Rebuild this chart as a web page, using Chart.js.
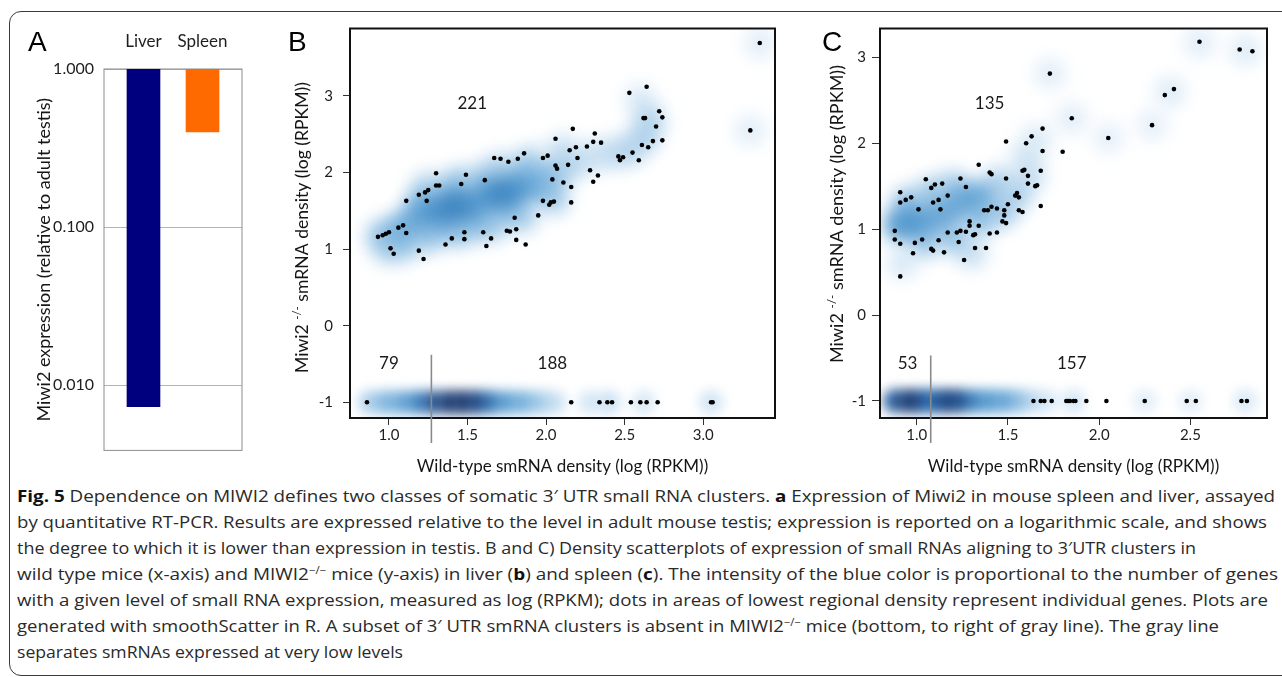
<!DOCTYPE html>
<html>
<head>
<meta charset="utf-8">
<script src="https://cdn.jsdelivr.net/npm/chart.js@4.4.1/dist/chart.umd.min.js"></script>
<style>
html, body { margin: 0; padding: 0; background: #fff; }
body { width: 1282px; height: 677px; position: relative; overflow: hidden; }
#frame { position: absolute; left: 9px; top: 11px; width: 1290px; height: 665px; box-sizing: border-box;
         border: 1.6px solid #3a3a3a; border-radius: 12px; }
.panel { position: absolute; top: 28px; font-family: "Liberation Sans", Arial, sans-serif; font-size: 28px; line-height: 28px; color: #000; }
canvas { position: absolute; top: 0; }
.line { position: absolute; left: 17px; white-space: nowrap; transform-origin: 0 50%;
        font-family: "Open Sans", sans-serif; font-size: 16.5px; line-height: 26px; color: #2a2a2a; }
.line b { color: #111; }
.line sup { font-size: 10px; line-height: 0; vertical-align: 6px; }
</style>
</head>
<body>
<div id="frame"></div>
<canvas id="chartA" width="262" height="470" style="left:0px"></canvas>
<canvas id="chartB" width="522" height="482" style="left:268px"></canvas>
<canvas id="chartC" width="482" height="482" style="left:800px"></canvas>
<div class="panel" style="left:28px">A</div>
<div class="panel" style="left:288px">B</div>
<div class="panel" style="left:822px">C</div>

<div class="line" style="top:483px" data-w="1258"><b>Fig. 5</b> Dependence on MIWI2 defines two classes of somatic 3′ UTR small RNA clusters. <b>a</b> Expression of Miwi2 in mouse spleen and liver, assayed</div>
<div class="line" style="top:509px" data-w="1250">by quantitative RT-PCR. Results are expressed relative to the level in adult mouse testis; expression is reported on a logarithmic scale, and shows</div>
<div class="line" style="top:535px" data-w="1179">the degree to which it is lower than expression in testis. B and C) Density scatterplots of expression of small RNAs aligning to 3′UTR clusters in</div>
<div class="line" style="top:561px" data-w="1261">wild type mice (x-axis) and MIWI2<sup>−/−</sup> mice (y-axis) in liver (<b>b</b>) and spleen (<b>c</b>). The intensity of the blue color is proportional to the number of genes</div>
<div class="line" style="top:587px" data-w="1251">with a given level of small RNA expression, measured as log (RPKM); dots in areas of lowest regional density represent individual genes. Plots are</div>
<div class="line" style="top:613px" data-w="1202">generated with smoothScatter in R. A subset of 3′ UTR smRNA clusters is absent in MIWI2<sup>−/−</sup> mice (bottom, to right of gray line). The gray line</div>
<div class="line" style="top:639px" data-w="386">separates smRNAs expressed at very low levels</div>

<script>
// ---- panel A: Miwi2 expression relative to adult testis ----
var tissues = ['Liver', 'Spleen'];
var miwi2Expr = [0.0073, 0.40];
var tissueColors = ['#00007e', '#ff6a00'];
var exprTicks = [1, 0.1, 0.01];

// ---- panels B / C: axes ----
var wtTicksB = [1.0, 1.5, 2.0, 2.5, 3.0];
var wtTicksC = [1.0, 1.5, 2.0, 2.5];
var koTicks = [-1, 0, 1, 2, 3];
var ABSENT = -1; // clusters with no smRNA in Miwi2-/- sit on this row

// liver (B): individual genes drawn as dots [wild-type, Miwi2-/-]
var liverDots = [
  [2.06,2.44],[1.67,2.19],[1.71,2.18],[1.76,2.14],[1.82,2.18],[1.86,2.25],[1.98,2.19],[2.01,2.22],[2.15,2.29],
  [2.06,2.09],[2.07,2.05],[2.14,2.10],[2.04,1.91],[2.11,1.87],
  [1.30,1.99],[1.30,1.83],[1.32,1.83],[1.49,1.97],[1.61,1.90],[1.46,1.85],[1.19,1.71],[1.23,1.74],[1.25,1.77],
  [1.24,1.63],[1.11,1.63],[1.98,1.63],[2.02,1.58],[2.03,1.61],[2.05,1.62],[1.95,1.44],[1.80,1.41],
  [0.93,1.16],[0.96,1.18],[0.98,1.20],[1.00,1.22],[1.06,1.28],[1.09,1.31],[1.11,1.21],[1.01,1.01],[1.03,0.94],
  [1.19,0.98],[1.22,0.87],[1.36,1.06],[1.40,1.14],[1.48,1.22],[1.48,1.13],[1.60,1.22],[1.65,1.14],[1.62,1.04],
  [1.75,1.24],[1.77,1.23],[1.81,1.26],[1.81,1.12],[1.87,1.06],
  [3.36,3.69],[3.30,2.55],[2.53,3.04],[2.64,3.12],[2.72,2.80],[2.62,2.71],[2.63,2.71],[2.74,2.72],[2.70,2.60],
  [2.74,2.42],[2.68,2.41],[2.61,2.36],[2.65,2.33],[2.55,2.26],[2.59,2.16],[2.46,2.21],[2.47,2.16],[2.49,2.20],
  [2.17,2.57],[2.31,2.51],[2.30,2.40],[2.35,2.39],[2.26,2.34],[2.19,2.33],[2.20,2.19],[2.28,2.03],[2.33,1.96],
  [2.30,1.88],[2.16,1.81],[2.16,1.61]
];
var liverAbsent = [0.86, 2.16, 2.34, 2.39, 2.42, 2.54, 2.60, 2.64, 2.71, 3.05, 3.06];
// density: [wild-type, Miwi2-/-, relative density 0..1]
var liverCloud = [
  [0.95,1.17,0.40],[1.05,1.22,0.48],[1.12,1.32,0.52],[1.20,1.42,0.58],[1.28,1.50,0.66],[1.38,1.54,0.74],
  [1.46,1.55,0.72],[1.55,1.60,0.64],[1.64,1.68,0.68],[1.72,1.74,0.74],[1.80,1.76,0.66],[1.88,1.82,0.55],
  [1.97,1.90,0.45],[2.06,2.00,0.36],[2.16,2.10,0.28],[2.28,2.20,0.22],[2.40,2.25,0.24],[2.52,2.28,0.32],
  [2.62,2.45,0.34],[2.66,2.68,0.32],[2.60,2.95,0.16],[3.36,3.69,0.12],[3.30,2.55,0.12],
  [1.00,1.00,0.30],[1.10,1.05,0.36],[1.25,1.15,0.40],[1.35,1.30,0.48],[1.45,1.22,0.40],[1.55,1.35,0.45],
  [1.65,1.30,0.38],[1.75,1.50,0.45],[1.85,1.42,0.36],[2.05,1.65,0.34],[2.00,1.80,0.38],
  [1.20,1.60,0.42],[1.25,1.80,0.34],[1.40,1.75,0.45],[1.45,1.88,0.36],[1.60,1.90,0.42],[1.70,2.05,0.34],
  [1.85,2.00,0.40],[1.90,2.15,0.30],[2.10,2.30,0.22]
];
var liverBand = [
  [0.88,-1,0.32],[0.98,-1,0.48],[1.08,-1,0.58],[1.18,-1,0.74],[1.28,-1,0.90],[1.38,-1,1.00],[1.47,-1,1.00],
  [1.56,-1,0.92],[1.65,-1,0.76],[1.75,-1,0.62],[1.85,-1,0.52],[1.95,-1,0.36],[2.05,-1,0.22],[2.28,-1,0.16],
  [2.40,-1,0.20],[2.62,-1,0.15],[3.05,-1,0.18]
];
var liverCounts = [['221', 1.53, 2.90], ['79', 1.00, -0.49], ['188', 2.04, -0.49]];
var liverCut = 1.27;

// spleen (C)
var spleenDots = [
  [2.55,3.18],[2.77,3.09],[2.84,3.07],[1.73,2.81],[2.36,2.56],[2.41,2.63],[1.85,2.29],[2.29,2.21],[2.05,2.06],[1.80,1.90],
  [1.69,2.17],[1.69,1.91],[1.63,2.08],[1.60,2.00],[1.49,2.02],[1.68,1.68],[1.34,1.75],[1.40,1.66],[1.41,1.64],
  [1.49,1.59],[1.58,1.68],[1.59,1.69],[1.61,1.62],[1.61,1.53],[1.65,1.50],[1.66,1.51],
  [1.24,1.59],[1.27,1.49],[1.05,1.58],[1.08,1.48],[1.10,1.52],[1.14,1.53],[0.91,1.43],[0.91,1.31],[0.94,1.34],
  [0.97,1.37],[1.01,1.23],[1.09,1.31],[1.12,1.34],[1.13,1.23],[1.17,1.39],
  [1.50,1.29],[1.37,1.22],[1.39,1.22],[1.41,1.26],[1.44,1.24],[1.48,1.16],[1.48,1.22],[1.54,1.39],[1.55,1.42],
  [1.56,1.37],[1.56,1.22],[1.58,1.20],[1.68,1.27],
  [1.47,1.09],[1.49,1.07],[1.44,0.96],[1.40,0.95],[1.34,1.04],[1.29,1.09],[1.29,1.04],[1.31,0.93],[1.32,0.94],
  [1.27,0.97],[1.24,0.98],[1.22,0.96],[1.17,0.96],
  [1.23,0.85],[1.12,0.87],[1.03,0.88],[0.99,0.84],[0.88,0.98],[0.88,0.88],[0.91,0.83],[0.98,0.72],[1.08,0.77],
  [1.09,0.75],[1.15,0.73],[1.26,0.64],[1.32,0.78],[1.38,0.78],[0.91,0.45]
];
var spleenAbsent = [1.64, 1.68, 1.70, 1.74, 1.82, 1.83, 1.84, 1.86, 1.87, 1.93, 2.04, 2.25, 2.48, 2.53, 2.78, 2.81];
var spleenCloud = [
  [0.90,1.05,0.68],[0.97,1.07,0.66],[1.05,1.10,0.60],[1.13,1.15,0.58],[1.20,1.25,0.58],[1.28,1.35,0.62],
  [1.36,1.38,0.55],[0.95,1.30,0.48],[1.08,1.42,0.42],[1.20,1.50,0.38],[1.05,0.85,0.42],[1.20,0.90,0.45],
  [1.35,1.10,0.46],[1.47,1.20,0.40],[1.55,1.40,0.34],[1.45,1.55,0.32],[1.62,1.62,0.24],[1.60,1.85,0.18],
  [1.66,2.05,0.14],[1.30,0.72,0.24],[0.92,0.60,0.16],[1.73,2.81,0.12],[1.85,2.29,0.12],[2.05,2.06,0.10],
  [2.29,2.21,0.10],[2.39,2.60,0.14],[2.55,3.17,0.12],[2.80,3.08,0.14]
];
var spleenBand = [
  [0.88,-1,0.88],[0.96,-1,1.00],[1.03,-1,0.84],[1.10,-1,0.84],[1.17,-1,0.96],[1.24,-1,0.88],[1.32,-1,0.72],
  [1.40,-1,0.64],[1.48,-1,0.58],[1.56,-1,0.40],[1.64,-1,0.22],[1.72,-1,0.13],[1.86,-1,0.16],[2.25,-1,0.10],
  [2.50,-1,0.10],[2.80,-1,0.14]
];
var spleenCounts = [['135', 1.40, 2.46], ['53', 0.95, -0.56], ['157', 1.85, -0.56]];
var spleenCut = 1.077;

var FONT = 'Lato';
var TICK_COLOR = '#1e1e1e';

// white -> navy ramp like smoothScatter's blues
var BLUE_STOPS = [[0, [240,246,252]], [0.1, [222,236,248]], [0.3, [170,206,233]], [0.5, [110,172,218]],
                  [0.7, [60,138,198]], [0.85, [16,85,160]], [1, [6,40,100]]];
function blue(w, a) {
    for (var i = 1; i < BLUE_STOPS.length; i++) {
        var w0 = BLUE_STOPS[i - 1][0], c0 = BLUE_STOPS[i - 1][1];
        var w1 = BLUE_STOPS[i][0], c1 = BLUE_STOPS[i][1];
        if (w <= w1 || i === BLUE_STOPS.length - 1) {
            var f = Math.min(1, Math.max(0, (w - w0) / (w1 - w0)));
            var c = c0.map(function(v, k) { return Math.round(v + (c1[k] - v) * f); });
            return 'rgba(' + c.join(',') + ',' + a + ')';
        }
    }
}

function drawBox(chart, cfg) {
    var a = chart.chartArea, ctx = chart.ctx;
    ctx.save();
    ctx.strokeStyle = cfg.boxColor;
    ctx.lineWidth = cfg.boxWidth;
    ctx.strokeRect(a.left, a.top, a.right - a.left, a.bottom - a.top);
    ctx.restore();
}

// rotated y title with a raised "-/-"
function drawYTitle(ctx, t) {
    ctx.save();
    ctx.translate(t.cx, t.cy);
    ctx.rotate(-Math.PI / 2);
    var big = '17px ' + FONT, small = '11px ' + FONT;
    ctx.font = big;
    var w1 = ctx.measureText(t.pre).width, w3 = ctx.measureText(t.post).width;
    ctx.font = small;
    var w2 = ctx.measureText(t.sup).width;
    var total = w1 + w2 + w3;
    ctx.scale(t.width / total, 1);
    ctx.fillStyle = '#151515';
    ctx.textAlign = 'left';
    ctx.textBaseline = 'alphabetic';
    var xx = -total / 2, base = 6;
    ctx.font = big; ctx.fillText(t.pre, xx, base); xx += w1;
    ctx.font = small; ctx.fillText(t.sup, xx, base - 7); xx += w2;
    ctx.font = big; ctx.fillText(t.post, xx, base);
    ctx.restore();
}

function makeDeco(cfg) {
    return {
        id: 'deco',
        beforeDatasetsDraw: function(chart) {
            if (cfg.boxUnder) drawBox(chart, cfg);
        },
        beforeDatasetDraw: function(chart, args) {
            var ds = chart.data.datasets[args.index];
            if (ds.blur) { chart.ctx.save(); chart.ctx.filter = 'blur(' + ds.blur + 'px)'; }
        },
        afterDatasetDraw: function(chart, args) {
            if (chart.data.datasets[args.index].blur) chart.ctx.restore();
        },
        afterDraw: function(chart) {
            var ctx = chart.ctx, a = chart.chartArea, x = chart.scales.x, y = chart.scales.y;
            if (!cfg.boxUnder) drawBox(chart, cfg);
            ctx.save();
            if (cfg.cut != null) {
                var px = x.getPixelForValue(cfg.cut);
                ctx.strokeStyle = '#8a8a8a';
                ctx.lineWidth = 1.6;
                ctx.beginPath();
                ctx.moveTo(px, y.getPixelForValue(cfg.cutTop));
                ctx.lineTo(px, a.bottom + 25);
                ctx.stroke();
            }
            (cfg.notes || []).forEach(function(n) {
                ctx.font = '17px ' + FONT;
                ctx.fillStyle = '#1a1a1a';
                ctx.textAlign = 'center';
                ctx.textBaseline = 'middle';
                ctx.fillText(n[0], x.getPixelForValue(n[1]), y.getPixelForValue(n[2]));
            });
            if (cfg.ytitle) drawYTitle(ctx, cfg.ytitle);
            ctx.restore();
        }
    };
}

// panel A
new Chart(document.getElementById('chartA'), {
    type: 'bar',
    data: {
        datasets: [{
            data: miwi2Expr.map(function(v, i) { return {x: i, y: [v, 1]}; }),
            backgroundColor: tissueColors,
            barThickness: 33,
            borderWidth: 0
        }]
    },
    options: {
        responsive: false, animation: false, events: [],
        layout: {padding: {left: 30, top: 28, right: 20, bottom: 19}},
        plugins: {legend: {display: false}, tooltip: {enabled: false}},
        scales: {
            x: {
                type: 'linear', position: 'top', min: -0.669, max: 1.669, offset: false,
                afterBuildTicks: function(s) { s.ticks = tissues.map(function(t, i) { return {value: i}; }); },
                afterFit: function(s) { s.height = 41; },
                ticks: {callback: function(v) { return tissues[v]; }, font: {family: FONT, size: 17}, color: TICK_COLOR,
                        padding: 9, maxRotation: 0, autoSkip: false},
                grid: {display: false}, border: {display: false}
            },
            y: {
                type: 'logarithmic', min: 0.00386, max: 1,
                afterBuildTicks: function(s) { s.ticks = exprTicks.map(function(v) { return {value: v}; }); },
                afterFit: function(s) { s.width = 74; },
                ticks: {callback: function(v) { return v.toFixed(3); }, font: {family: FONT, size: 16}, color: TICK_COLOR,
                        padding: 10, autoSkip: false},
                grid: {color: '#b4b4b4', drawTicks: false, lineWidth: 1}, border: {display: false},
                title: {display: true, text: 'Miwi2 expression (relative to adult testis)',
                        font: {family: FONT, size: 18}, color: '#151515', padding: {top: 3, bottom: 0}}
            }
        }
    },
    plugins: [makeDeco({boxUnder: true, boxColor: '#8c8c8c', boxWidth: 1})]
});

function densitySet(blobs, radius, blur) {
    var pts = blobs.slice().sort(function(p, q) { return p[2] - q[2]; });
    return {
        data: pts.map(function(p) { return {x: p[0], y: p[1]}; }),
        pointRadius: radius, pointHoverRadius: radius, borderWidth: 0,
        backgroundColor: pts.map(function(p) { return blue(p[2], 0.82); }),
        blur: blur
    };
}

function densityPlot(id, o) {
    var dots = o.dots.map(function(p) { return {x: p[0], y: p[1]}; })
        .concat(o.absent.map(function(v) { return {x: v, y: ABSENT}; }));
    return new Chart(document.getElementById(id), {
        type: 'scatter',
        data: {
            datasets: [
                {data: dots, pointRadius: 2.3, pointHoverRadius: 2.3, backgroundColor: '#000', borderWidth: 0},
                densitySet(o.cloud, 15, 9),
                densitySet(o.band, 12, 6)
            ]
        },
        options: {
            responsive: false, animation: false, events: [],
            layout: {padding: o.pad},
            plugins: {legend: {display: false}, tooltip: {enabled: false}},
            scales: {
                x: {
                    type: 'linear', min: o.xMin, max: o.xMax,
                    afterBuildTicks: function(s) { s.ticks = o.xTicks.map(function(v) { return {value: v}; }); },
                    afterFit: function(s) { s.height = 59; },
                    ticks: {callback: function(v) { return v.toFixed(1); }, font: {family: FONT, size: 15}, color: TICK_COLOR,
                            padding: 1, maxRotation: 0, autoSkip: false},
                    grid: {drawOnChartArea: false, tickLength: 7, tickColor: '#333', lineWidth: 1},
                    border: {display: false},
                    title: {display: true, text: 'Wild-type smRNA density (log (RPKM))',
                            font: {family: FONT, size: 17}, color: '#151515', padding: 0}
                },
                y: {
                    type: 'linear', min: o.yMin, max: o.yMax,
                    afterBuildTicks: function(s) { s.ticks = koTicks.map(function(v) { return {value: v}; }); },
                    afterFit: function(s) { s.width = o.yW; },
                    ticks: {callback: function(v) { return String(v); }, font: {family: FONT, size: 15}, color: TICK_COLOR,
                            padding: o.yPad, autoSkip: false},
                    grid: {drawOnChartArea: false, tickLength: o.tl, tickColor: '#333', lineWidth: 1},
                    border: {display: false}
                }
            }
        },
        plugins: [makeDeco({
            boxColor: '#111', boxWidth: 2,
            cut: o.cut, cutTop: o.cutTop, notes: o.notes,
            ytitle: {cx: o.titleX, cy: o.titleY, width: o.titleW, pre: 'Miwi2 ', sup: '-/-', post: ' smRNA density (log (RPKM))'}
        })]
    });
}

densityPlot('chartB', {
    dots: liverDots, absent: liverAbsent, cloud: liverCloud, band: liverBand, notes: liverCounts,
    cut: liverCut, cutTop: -0.38,
    xMin: 0.752, xMax: 3.457, yMin: -1.205, yMax: 3.88, xTicks: wtTicksB,
    pad: {left: 40, top: 28.5, right: 4, bottom: 5}, yW: 42, yPad: 10, tl: 7,
    titleX: 34, titleY: 227.5, titleW: 291
});

densityPlot('chartC', {
    dots: spleenDots, absent: spleenAbsent, cloud: spleenCloud, band: spleenBand, notes: spleenCounts,
    cut: spleenCut, cutTop: -0.47,
    xMin: 0.799, xMax: 2.92, yMin: -1.198, yMax: 3.335, xTicks: wtTicksC,
    pad: {left: 40, top: 28.5, right: 8, bottom: 5}, yW: 40, yPad: 6, tl: 8,
    titleX: 37, titleY: 214, titleW: 298
});

// stretch each caption line to the width it has in the figure
document.querySelectorAll('.line').forEach(function(el) {
    var w = el.getBoundingClientRect().width;
    el.style.transform = 'scaleX(' + (+el.dataset.w / w) + ')';
});
</script>
</body>
</html>
